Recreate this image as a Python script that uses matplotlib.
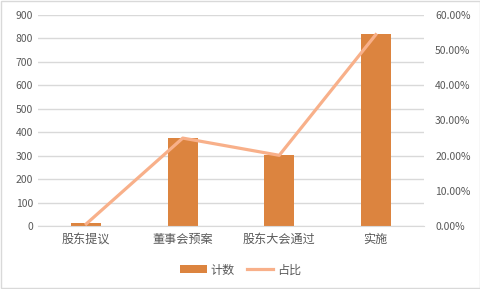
import matplotlib.pyplot as plt
from matplotlib.ticker import FuncFormatter
from matplotlib.patches import Rectangle

plt.rcParams['font.family'] = ['Noto Sans CJK SC', 'DejaVu Sans']

categories = ['股东提议', '董事会预案', '股东大会通过', '实施']
counts = [13, 376, 303, 817]
ratios = [0.006, 0.250, 0.201, 0.544]

bar_color = '#DC843F'
line_color = '#F8B08A'
text_color = '#595959'
grid_color = '#D9D9D9'

fig = plt.figure(figsize=(4.81, 2.89), dpi=100)
ax = fig.add_axes([38 / 481, 1 - 226 / 289, 386 / 481, 211 / 289])

x = range(len(categories))
ax.bar(x, counts, width=0.31, color=bar_color, label='计数', zorder=2)
ax.set_ylim(0, 900)
ax.set_yticks(range(0, 901, 100))
ax.set_xlim(-0.5, 3.5)
ax.set_xticks(list(x))
ax.set_xticklabels(categories, color=text_color)
ax.grid(axis='y', color=grid_color, linewidth=1, zorder=0)
for s in ax.spines.values():
    s.set_visible(False)
ax.spines['bottom'].set_visible(True)
ax.spines['bottom'].set_color(grid_color)
ax.tick_params(axis='both', length=0, colors=text_color, labelsize=7.5)
ax.tick_params(axis='x', pad=5, labelsize=8.7)

ax2 = ax.twinx()
ax2.plot(list(x), ratios, color=line_color, linewidth=2.3, label='占比', zorder=3)
ax2.set_ylim(0, 0.6)
ax2.set_yticks([i / 10 for i in range(7)])
ax2.yaxis.set_major_formatter(FuncFormatter(lambda v, p: f'{v * 100:.2f}%'))
ax2.tick_params(axis='y', length=0, colors=text_color, labelsize=7.5, pad=8)
for s in ax2.spines.values():
    s.set_visible(False)

h1, l1 = ax.get_legend_handles_labels()
h2, l2 = ax2.get_legend_handles_labels()
fig.legend(h1 + h2, l1 + l2, loc='center', bbox_to_anchor=(0.5, 1 - 270 / 289),
           ncol=2, frameon=False, fontsize=8.7, labelcolor=text_color,
           handlelength=2.2, handleheight=0.6, columnspacing=1.0, handletextpad=0.3)

fig.patches.append(Rectangle((0.002, 0.003), 0.996, 0.994, transform=fig.transFigure,
                             fill=False, edgecolor='#D9D9D9', linewidth=1))

fig.savefig('out.png', dpi=100)
